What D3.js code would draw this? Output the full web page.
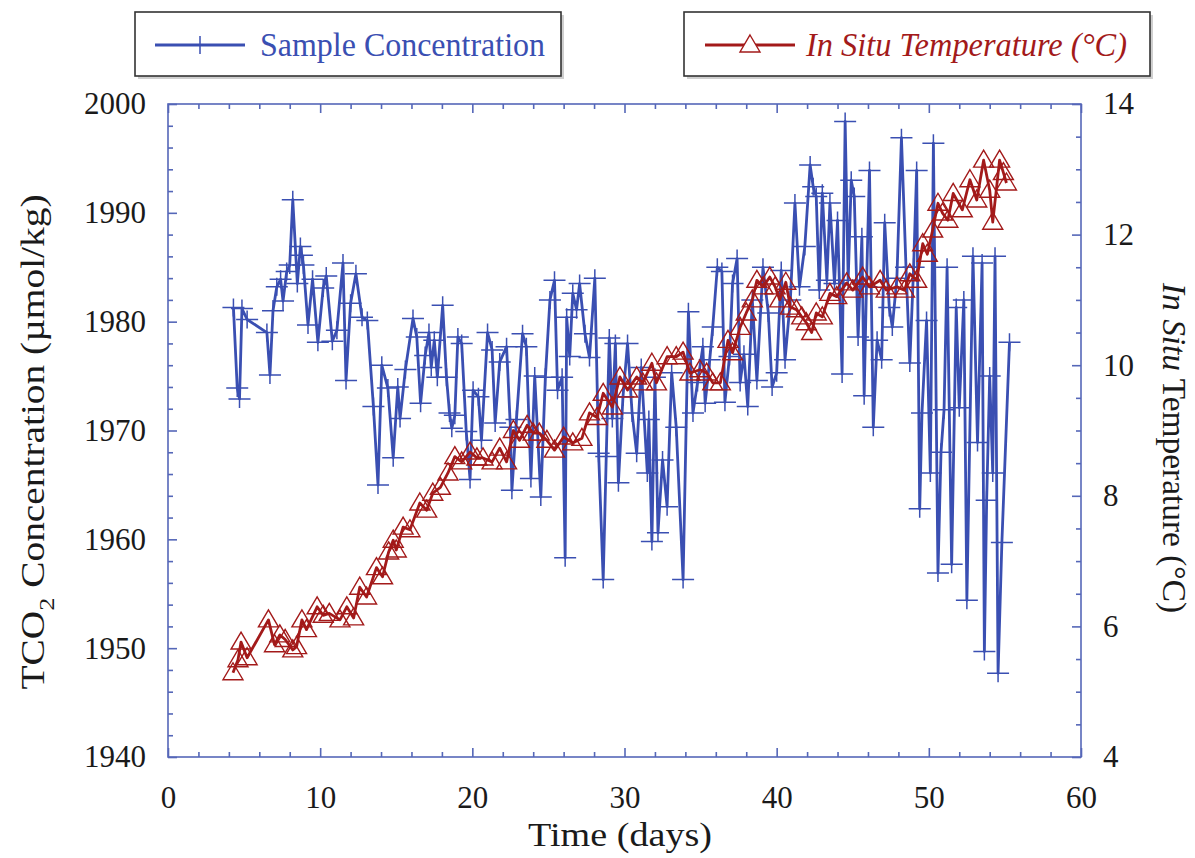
<!DOCTYPE html>
<html><head><meta charset="utf-8">
<script src="https://cdn.jsdelivr.net/npm/d3@7"></script>
<style>body{margin:0;background:#fff}svg{display:block}</style>
</head><body>
<svg id="c" width="1195" height="858"></svg>
<script>
// ---- data ----
const concDays = [4.3,4.55,4.7,4.86,5.2,6.5,6.7,6.9,7.15,7.4,7.56,7.8,8.0,8.2,8.5,8.7,8.8,8.9,9.2,9.5,9.85,10.2,10.4,10.8,11.1,11.5,11.7,12.0,12.35,12.75,13.1,13.5,13.8,14.05,14.45,14.8,15.1,15.25,15.6,16.1,16.35,16.6,16.9,17.15,17.3,17.5,17.7,18.05,18.3,18.5,18.65,18.85,19.05,19.3,19.6,19.85,20.05,20.4,20.6,21.0,21.3,21.5,21.8,22.25,22.5,22.6,22.9,23.3,23.55,23.85,24.1,24.5,24.8,25.1,25.4,25.6,25.9,26.1,26.2,26.4,26.6,26.85,27.05,27.4,27.7,28.05,28.3,28.6,28.8,29.0,29.2,29.4,29.6,29.9,30.2,30.5,30.8,31.1,31.5,31.6,31.8,32.0,32.2,32.5,32.8,33.1,33.4,33.85,34.2,34.5,34.8,35.15,35.3,35.6,35.8,36.1,36.4,36.6,36.9,37.1,37.4,37.6,37.85,38.1,38.4,38.7,39.1,39.45,39.7,40.0,40.3,40.55,40.9,41.2,41.5,41.85,42.2,42.4,42.6,42.8,43.0,43.3,43.5,43.8,44.0,44.3,44.5,44.7,44.9,45.1,45.35,45.6,45.75,45.9,46.1,46.35,46.6,46.9,47.1,47.4,47.6,47.9,48.2,48.5,48.75,49.0,49.2,49.4,49.55,49.85,50.1,50.3,50.6,50.8,51.0,51.2,51.5,51.8,52.0,52.3,52.5,52.9,53.2,53.5,53.65,53.8,54.0,54.2,54.35,54.55,54.8,55.3];
const concValues = [1981.3,1973.9,1972.9,1981.2,1980.2,1979.0,1975.1,1981.0,1983.2,1983.9,1981.9,1984.6,1985.2,1991.2,1983.5,1986.9,1986.1,1985.2,1979.7,1983.9,1978.1,1983.1,1984.2,1978.2,1979.2,1985.4,1974.6,1981.7,1984.4,1980.4,1980.1,1972.2,1965.0,1976.0,1973.9,1967.5,1974.0,1971.1,1975.6,1980.3,1978.6,1972.5,1976.9,1979.0,1975.8,1978.3,1974.9,1981.5,1974.9,1971.6,1970.2,1971.4,1978.6,1978.0,1969.9,1965.5,1973.7,1973.1,1969.1,1979.0,1977.4,1970.7,1976.3,1977.7,1970.3,1964.5,1971.0,1978.9,1977.7,1965.6,1975.0,1963.9,1974.9,1982.0,1983.8,1973.7,1974.9,1958.3,1980.4,1976.8,1982.6,1981.1,1983.5,1978.9,1976.7,1984.0,1967.9,1956.3,1967.6,1978.5,1971.1,1978.0,1965.2,1973.1,1978.0,1971.6,1967.9,1975.8,1966.1,1971.0,1959.8,1974.9,1960.6,1967.3,1963.0,1975.3,1970.3,1956.3,1980.9,1971.6,1974.4,1977.7,1972.5,1976.5,1979.5,1985.0,1984.6,1972.6,1976.8,1983.5,1985.8,1974.4,1977.0,1972.2,1982.0,1974.6,1985.0,1980.8,1974.0,1975.3,1984.7,1976.5,1982.0,1990.9,1983.2,1986.9,1994.4,1992.4,1991.5,1982.9,1991.8,1983.8,1990.9,1983.5,1989.3,1975.2,1998.4,1983.8,1993.0,1991.5,1978.6,1987.8,1973.2,1983.2,1993.9,1970.3,1978.3,1976.5,1989.1,1981.3,1979.5,1984.0,1996.9,1985.0,1976.2,1985.0,1993.9,1962.8,1971.6,1980.1,1966.1,1996.4,1956.9,1968.0,1971.9,1985.0,1957.7,1981.3,1972.1,1982.0,1954.4,1986.0,1968.9,1985.4,1949.7,1963.6,1975.0,1966.1,1986.0,1947.7,1959.7,1978.1];

const tempDays = [4.27,4.6,4.8,5.2,6.6,7.0,7.35,7.7,8.2,8.45,8.8,9.1,9.8,10.2,10.6,11.3,11.75,12.2,12.6,13.05,13.7,14.1,14.5,14.8,15.0,15.45,15.9,16.55,17.0,17.4,17.9,18.4,18.85,19.3,19.85,20.3,20.7,21.3,21.8,22.25,22.7,23.1,23.6,24.0,24.4,24.9,25.4,26.0,26.6,27.2,27.7,28.2,28.6,29.2,29.7,30.2,30.8,31.2,31.8,32.1,32.8,33.4,33.85,34.3,34.95,35.4,35.8,36.3,36.8,37.1,37.6,38.0,38.4,38.7,39.1,39.55,39.9,40.2,40.6,40.9,41.3,41.65,41.95,42.3,42.6,43.0,43.5,43.95,44.6,45.0,45.65,46.1,46.8,47.2,47.9,48.4,48.75,49.2,49.6,49.9,50.25,50.6,50.9,51.25,51.6,52.2,52.7,53.15,53.6,54.0,54.2,54.65,54.9,55.1];
const tempValues = [5.29,5.49,5.76,5.52,6.10,5.72,5.87,5.80,5.64,5.69,6.10,5.95,6.30,6.17,6.20,6.10,6.30,6.13,6.60,6.45,6.90,6.76,7.14,7.32,7.17,7.52,7.48,7.89,7.78,8.04,8.13,8.35,8.60,8.52,8.67,8.58,8.58,8.52,8.73,8.52,9.00,8.85,9.08,8.96,8.96,8.85,8.70,8.90,8.81,8.88,9.27,9.20,9.57,9.36,9.82,9.62,9.82,9.73,10.03,9.73,10.13,10.13,10.20,9.88,9.93,9.88,9.73,9.73,10.38,10.19,10.58,10.80,11.00,11.30,11.20,11.35,11.20,11.00,11.27,10.89,10.85,10.74,10.65,10.50,10.80,10.74,11.10,11.05,11.26,11.15,11.35,11.20,11.30,11.15,11.20,11.15,11.40,11.30,11.86,11.70,12.07,12.48,12.33,12.22,12.63,12.38,12.84,12.53,13.14,12.68,12.19,13.14,12.95,12.79];

const xTicks = [0,10,20,30,40,50,60];
const yLeftTicks = [1940,1950,1960,1970,1980,1990,2000];
const yRightTicks = [4,6,8,10,12,14];

// ---- drawing ----
const svg = d3.select("#c");
const L = 168, R = 1081, T = 104, B = 757;
const x = d3.scaleLinear().domain([0,60]).range([L,R]);
const yL = d3.scaleLinear().domain([1940,2000]).range([B,T]);
const yR = d3.scaleLinear().domain([4,14]).range([B,T]);
const axisCol = "#5567b8", blue = "#3a4fb2", red = "#a31a1a";
const font = "'Liberation Serif','Times New Roman',serif";

function style(g, labels){
  g.select(".domain").remove();
  g.selectAll("line").attr("stroke", axisCol).attr("stroke-width", 1.6);
  g.selectAll("text").attr("font-family", font).attr("font-size", 31).attr("fill", "#1a1a1a");
  if(!labels) g.selectAll("text").remove();
}
const minorX = d3.range(0,61,2).filter(v=>v%10);
const minorYL = d3.range(1940,2001,2).filter(v=>v%10);
const minorYR = d3.range(4,14.01,0.5).filter(v=>v%2);

// major
style(svg.append("g").attr("transform",`translate(0,${B})`).call(d3.axisBottom(x).tickValues(xTicks).tickSize(-9).tickPadding(29).tickFormat(d3.format("d"))), true);
style(svg.append("g").attr("transform",`translate(0,${T})`).call(d3.axisTop(x).tickValues(xTicks).tickSize(-9)), false);
style(svg.append("g").attr("transform",`translate(${L},0)`).call(d3.axisLeft(yL).tickValues(yLeftTicks).tickSize(-9).tickPadding(22).tickFormat(d3.format("d"))), true);
style(svg.append("g").attr("transform",`translate(${R},0)`).call(d3.axisRight(yR).tickValues(yRightTicks).tickSize(-9).tickPadding(22).tickFormat(d3.format("d"))), true);
// minor
style(svg.append("g").attr("transform",`translate(0,${B})`).call(d3.axisBottom(x).tickValues(minorX).tickSize(-5)), false);
style(svg.append("g").attr("transform",`translate(0,${T})`).call(d3.axisTop(x).tickValues(minorX).tickSize(-5)), false);
style(svg.append("g").attr("transform",`translate(${L},0)`).call(d3.axisLeft(yL).tickValues(minorYL).tickSize(-5)), false);
style(svg.append("g").attr("transform",`translate(${R},0)`).call(d3.axisRight(yR).tickValues(minorYR).tickSize(-5)), false);

// frame
svg.append("rect").attr("x",L).attr("y",T).attr("width",R-L).attr("height",B-T)
  .attr("fill","none").attr("stroke",axisCol).attr("stroke-width",1.6);

// concentration series
const conc = concDays.map((d,i)=>[d,concValues[i]]);
svg.append("path").datum(conc)
  .attr("d", d3.line().x(d=>x(d[0])).y(d=>yL(d[1])))
  .attr("fill","none").attr("stroke",blue).attr("stroke-width",2.8).attr("stroke-linejoin","round");
const plus = "M-11,0H11M0,-9V9";
svg.append("g").selectAll("path").data(conc).join("path")
  .attr("transform",d=>`translate(${x(d[0])},${yL(d[1])})`)
  .attr("d",plus).attr("stroke",blue).attr("stroke-width",1.5).attr("fill","none");

// temperature series
const temp = tempDays.map((d,i)=>[d,tempValues[i]]);
svg.append("path").datum(temp)
  .attr("d", d3.line().x(d=>x(d[0])).y(d=>yR(d[1])))
  .attr("fill","none").attr("stroke",red).attr("stroke-width",2.8).attr("stroke-linejoin","round");
const tri = "M0,-10L10,7H-10Z";
svg.append("g").selectAll("path").data(temp).join("path")
  .attr("transform",d=>`translate(${x(d[0])},${yR(d[1])})`)
  .attr("d",tri).attr("stroke",red).attr("stroke-width",1.4).attr("fill","none");

// axis titles
svg.append("text").attr("x",620).attr("y",846).attr("text-anchor","middle")
  .attr("font-family",font).attr("font-size",33).attr("fill","#1a1a1a")
  .attr("textLength",184).attr("lengthAdjust","spacingAndGlyphs").text("Time (days)");
const lt = svg.append("text").attr("transform","translate(44,442) rotate(-90)").attr("text-anchor","middle")
  .attr("font-family",font).attr("font-size",33).attr("fill","#1a1a1a")
  .attr("textLength",495).attr("lengthAdjust","spacingAndGlyphs");
lt.append("tspan").text("TCO");
lt.append("tspan").attr("dy",10).attr("font-size",22).text("2");
lt.append("tspan").attr("dy",-10).text(" Concentration (\u00b5mol/kg)");
const rt = svg.append("text").attr("transform","translate(1163,448) rotate(90)").attr("text-anchor","middle")
  .attr("font-family",font).attr("font-size",33).attr("fill","#1a1a1a")
  .attr("textLength",330).attr("lengthAdjust","spacingAndGlyphs");
rt.append("tspan").attr("font-style","italic").text("In Situ");
rt.append("tspan").text(" Temperature (\u00b0C)");

// legends
function legendBox(x0,y0,w,h){
  svg.append("rect").attr("x",x0+3).attr("y",y0+3).attr("width",w).attr("height",h).attr("fill","#cfcfcf");
  svg.append("rect").attr("x",x0).attr("y",y0).attr("width",w).attr("height",h)
    .attr("fill","#fff").attr("stroke","#333").attr("stroke-width",1.6);
}
legendBox(135,12,426,64);
svg.append("line").attr("x1",155).attr("x2",245).attr("y1",45).attr("y2",45).attr("stroke",blue).attr("stroke-width",2.8);
svg.append("path").attr("transform","translate(200,45)").attr("d",plus).attr("stroke",blue).attr("stroke-width",1.5);
svg.append("text").attr("x",260).attr("y",56).attr("font-family",font).attr("font-size",33).attr("fill",blue)
  .attr("textLength",285).attr("lengthAdjust","spacingAndGlyphs").text("Sample Concentration");

legendBox(684,12,466,64);
svg.append("line").attr("x1",705).attr("x2",795).attr("y1",45).attr("y2",45).attr("stroke",red).attr("stroke-width",2.8);
svg.append("path").attr("transform","translate(750,45)").attr("d",tri).attr("stroke",red).attr("stroke-width",1.4).attr("fill","#fff");
svg.append("text").attr("x",806).attr("y",56).attr("font-family",font).attr("font-size",33).attr("font-style","italic").attr("fill",red)
  .attr("textLength",321).attr("lengthAdjust","spacingAndGlyphs").text("In Situ Temperature (\u00b0C)");
</script>
</body></html>
